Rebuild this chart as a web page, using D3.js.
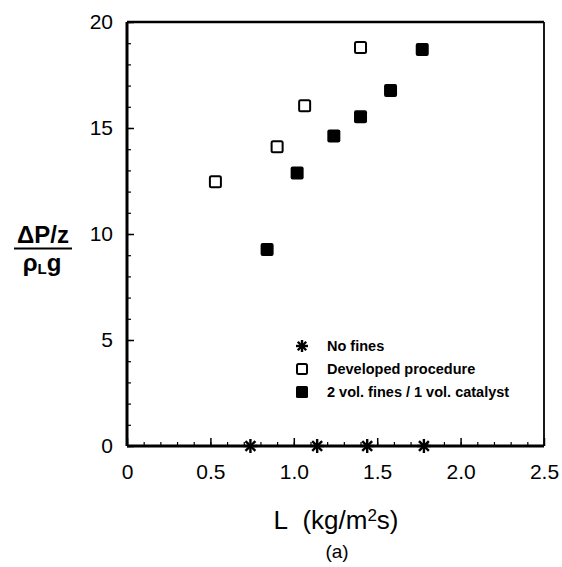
<!DOCTYPE html>
<html lang="en">
<head>
    <meta charset="UTF-8">
    <title>Pressure drop vs L</title>
    <script src="https://d3js.org/d3.v7.min.js"></script>
    <style>
        body { margin: 0; background: #fff; }
        text { font-family: "Liberation Sans", Arial, sans-serif; fill: #000; }
    </style>
</head>
<body>
    <script>
        // No fines (stars on the x axis)
        var noFinesL = [0.74, 1.14, 1.44, 1.78];
        var noFinesP = [0, 0, 0, 0];
        // Developed procedure (open squares)
        var devL = [0.53, 0.90, 1.065, 1.40];
        var devP = [12.47, 14.12, 16.05, 18.8];
        // 2 vol. fines / 1 vol. catalyst (filled squares)
        var finesL = [0.84, 1.02, 1.24, 1.40, 1.58, 1.77];
        var finesP = [9.27, 12.88, 14.62, 15.53, 16.77, 18.7];

        var xTicks = [0, 0.5, 1.0, 1.5, 2.0, 2.5];
        var xTickLabels = ["0", "0.5", "1.0", "1.5", "2.0", "2.5"];
        var yTicks = [0, 5, 10, 15, 20];
        var legendLabels = ["No fines", "Developed procedure", "2 vol. fines / 1 vol. catalyst"];

        var width = 562, height = 567;
        var plotL = 127, plotR = 544, plotT = 22, plotB = 446;

        var svg = d3.select("body").append("svg")
            .attr("width", width)
            .attr("height", height);

        var x = d3.scaleLinear().domain([0, 2.5]).range([plotL, plotR]);
        var y = d3.scaleLinear().domain([0, 20]).range([plotB, plotT]);

        // frame
        svg.append("line").attr("x1", plotL).attr("x2", plotR).attr("y1", plotT).attr("y2", plotT)
            .attr("stroke", "#000").attr("stroke-width", 2.5);
        svg.append("line").attr("x1", plotR).attr("x2", plotR).attr("y1", plotT).attr("y2", plotB)
            .attr("stroke", "#000").attr("stroke-width", 1.8);

        // minor ticks
        var xMinor = d3.range(0, 25).map(function (i) { return i / 10; });
        var yMinor = d3.range(0, 21);

        var xAxis = d3.axisBottom(x).tickValues(xMinor).tickSize(-4).tickFormat("");
        svg.append("g").attr("transform", "translate(0," + plotB + ")").call(xAxis)
            .call(function (g) { g.select(".domain").remove(); g.selectAll("line").attr("stroke-width", 1.2); });
        var yAxis = d3.axisLeft(y).tickValues(yMinor).tickSize(-4).tickFormat("");
        svg.append("g").attr("transform", "translate(" + plotL + ",0)").call(yAxis)
            .call(function (g) { g.select(".domain").remove(); g.selectAll("line").attr("stroke-width", 1.2); });

        // major ticks + labels
        var gx = svg.append("g").attr("transform", "translate(0," + plotB + ")")
            .call(d3.axisBottom(x).tickValues(xTicks).tickSize(-8).tickPadding(18)
                .tickFormat(function (d, i) { return xTickLabels[i]; }));
        gx.select(".domain").attr("stroke-width", 3).attr("d", "M" + plotL + ",0H" + plotR);
        gx.selectAll("line").attr("stroke-width", 1.5);
        gx.selectAll("text").attr("font-size", 21).attr("font-family", "Liberation Sans, Arial, sans-serif")
            .attr("dy", "0.71em");

        var gy = svg.append("g").attr("transform", "translate(" + plotL + ",0)")
            .call(d3.axisLeft(y).tickValues(yTicks).tickSize(-7).tickPadding(14));
        gy.select(".domain").attr("stroke-width", 3).attr("d", "M0," + plotB + "V" + plotT);
        gy.selectAll("line").attr("stroke-width", 1.5);
        gy.selectAll("text").attr("font-size", 21).attr("font-family", "Liberation Sans, Arial, sans-serif");

        // stars
        function star(g, cx, cy, r) {
            [0, 45, 90, 135].forEach(function (a) {
                var t = a * Math.PI / 180;
                g.append("line")
                    .attr("x1", cx - r * Math.cos(t)).attr("y1", cy - r * Math.sin(t))
                    .attr("x2", cx + r * Math.cos(t)).attr("y2", cy + r * Math.sin(t))
                    .attr("stroke", "#000").attr("stroke-width", 2.4);
            });
        }
        var gs = svg.append("g");
        noFinesL.forEach(function (d, i) { star(gs, x(d), y(noFinesP[i]), 7); });

        var s = 11;
        svg.append("g").selectAll("rect")
            .data(devL.map(function (d, i) { return [d, devP[i]]; }))
            .enter().append("rect")
            .attr("x", function (d) { return x(d[0]) - s / 2; })
            .attr("y", function (d) { return y(d[1]) - s / 2; })
            .attr("width", s).attr("height", s).attr("rx", 1.5)
            .attr("fill", "#fff").attr("stroke", "#000").attr("stroke-width", 2);

        svg.append("g").selectAll("rect")
            .data(finesL.map(function (d, i) { return [d, finesP[i]]; }))
            .enter().append("rect")
            .attr("x", function (d) { return x(d[0]) - (s + 2) / 2; })
            .attr("y", function (d) { return y(d[1]) - (s + 2) / 2; })
            .attr("width", s + 2).attr("height", s + 2).attr("rx", 2)
            .attr("fill", "#000");

        // legend
        var lx = 302, ly = 346, step = 23;
        var lg = svg.append("g");
        star(lg, lx, ly, 6);
        lg.append("rect").attr("x", lx - 5).attr("y", ly + step - 5).attr("width", 10).attr("height", 10)
            .attr("rx", 1.5).attr("fill", "#fff").attr("stroke", "#000").attr("stroke-width", 2);
        lg.append("rect").attr("x", lx - 6).attr("y", ly + 2 * step - 6).attr("width", 12).attr("height", 12)
            .attr("rx", 1.5).attr("fill", "#000");
        lg.selectAll("text").data(legendLabels).enter().append("text")
            .attr("x", lx + 25)
            .attr("y", function (d, i) { return ly + i * step; })
            .attr("dy", "0.36em")
            .attr("font-size", 14.5)
            .attr("font-weight", "bold")
            .text(function (d) { return d; });

        // axis titles
        svg.append("text")
            .attr("x", 336).attr("y", 529)
            .attr("text-anchor", "middle")
            .attr("font-size", 26)
            .html('L&#160;&#160;(kg/m<tspan font-size="17" dy="-8">2</tspan><tspan dy="8">s)</tspan>');

        svg.append("text")
            .attr("x", 337).attr("y", 558)
            .attr("text-anchor", "middle")
            .attr("font-size", 19)
            .text("(a)");

        var yt = svg.append("g");
        yt.append("text").attr("x", 43).attr("y", 243).attr("text-anchor", "middle")
            .attr("font-size", 24).attr("font-weight", "bold").text("\u0394P/z");
        yt.append("line").attr("x1", 14).attr("x2", 72).attr("y1", 248.5).attr("y2", 248.5)
            .attr("stroke", "#000").attr("stroke-width", 2);
        yt.append("text").attr("x", 42).attr("y", 271).attr("text-anchor", "middle")
            .attr("font-size", 24).attr("font-weight", "bold")
            .html('\u03C1<tspan font-size="15" dy="3">L</tspan><tspan dy="-3">g</tspan>');
    </script>
</body>
</html>
